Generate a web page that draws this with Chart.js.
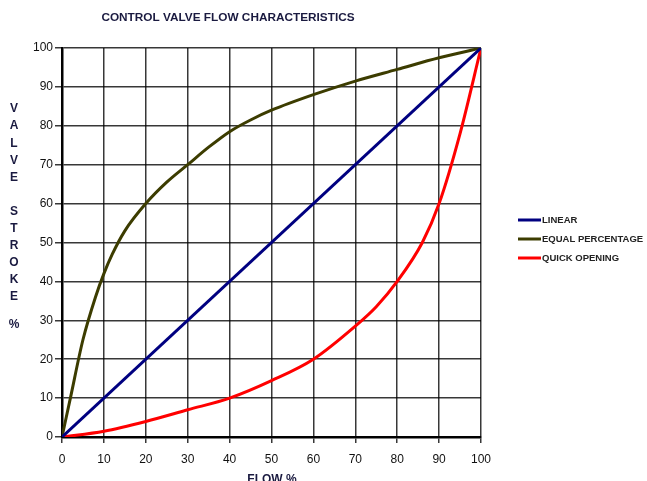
<!DOCTYPE html>
<html>
<head>
<meta charset="utf-8">
<script src="https://cdn.jsdelivr.net/npm/chart.js@4/dist/chart.umd.min.js"></script>
<style>
  html, body { margin: 0; padding: 0; background: #fff; }
  #wrap { width: 647px; height: 481px; }
</style>
</head>
<body>
<div id="wrap"><canvas id="chart"></canvas></div>
<script>
// Data (flow % -> valve stroke %)
const linearFlow   = [0, 100];
const linearStroke = [0, 100];

const equalFlow   = [0, 2, 5, 8, 10, 12, 15, 20, 25, 30, 35, 40, 45, 50, 60, 70, 80, 90, 100];
const equalStroke = [0, 10, 25, 36, 42, 47, 53, 60, 65.5, 70, 74.5, 78.5, 81.5, 84, 88, 91.5, 94.5, 97.5, 100];

const quickFlow   = [0, 10, 20, 30, 40, 50, 60, 70, 75, 80, 86, 90, 95, 100];
const quickStroke = [0, 1.5, 4, 7, 10, 14.5, 20, 28.5, 33.5, 40, 50, 60, 78, 100];

const seriesNames = ["LINEAR", "EQUAL PERCENTAGE", "QUICK OPENING"];
const seriesColors = ["#000080", "#3c3c00", "#ff0000"];

const titleText = "CONTROL VALVE FLOW CHARACTERISTICS";
const xTitle = "FLOW %";
const yTitle = ["V", "A", "L", "V", "E", "", "S", "T", "R", "O", "K", "E", "%"];

function toPoints(xs, ys) {
    return xs.map((x, i) => ({x: x, y: ys[i]}));
}

// Text around the chart: title, axis titles, legend
const decorations = {
    id: "decorations",
    afterDraw(chart) {
        const ctx = chart.ctx;
        ctx.save();
        ctx.fillStyle = "#1a1a40";
        ctx.textBaseline = "middle";

        ctx.font = "bold 11.8px 'Liberation Sans', Arial, sans-serif";
        ctx.textAlign = "center";
        ctx.fillText(titleText, 228, 18);

        ctx.font = "bold 12px 'Liberation Sans', Arial, sans-serif";
        ctx.fillText(xTitle, 272, 480);

        // stacked letters for the y title
        let y = 109;
        yTitle.forEach((ch, i) => {
            if (ch === "%") y += 10;
            if (ch) ctx.fillText(ch, 14, y);
            y += 17.1;
        });

        // legend
        ctx.textAlign = "left";
        ctx.font = "bold 9.5px 'Liberation Sans', Arial, sans-serif";
        chart.data.datasets.forEach((ds, i) => {
            let ly = 220 + i * 19;
            ctx.strokeStyle = ds.borderColor;
            ctx.lineWidth = 3;
            ctx.beginPath();
            ctx.moveTo(518, ly);
            ctx.lineTo(541, ly);
            ctx.stroke();
            ctx.fillStyle = "#222";
            ctx.fillText(ds.label, 542, ly);
        });
        ctx.restore();
    }
};

const gridOpts = {
    color: "rgba(0,0,0,0.78)",
    lineWidth: 1.5,
    drawTicks: true
};

const ctx = document.getElementById("chart").getContext("2d");
const myChart = new Chart(ctx, {
    type: "line",
    data: {
        datasets: [
            {
                label: seriesNames[0],
                data: toPoints(linearFlow, linearStroke),
                borderColor: seriesColors[0],
                backgroundColor: seriesColors[0],
                borderWidth: 3,
                pointRadius: 0,
                tension: 0
            },
            {
                label: seriesNames[1],
                data: toPoints(equalFlow, equalStroke),
                borderColor: seriesColors[1],
                backgroundColor: seriesColors[1],
                borderWidth: 3,
                pointRadius: 0,
                cubicInterpolationMode: "monotone"
            },
            {
                label: seriesNames[2],
                data: toPoints(quickFlow, quickStroke),
                borderColor: seriesColors[2],
                backgroundColor: seriesColors[2],
                borderWidth: 3,
                pointRadius: 0,
                cubicInterpolationMode: "monotone"
            }
        ]
    },
    options: {
        responsive: true,
        maintainAspectRatio: false,
        animation: false,
        layout: {
            padding: {top: 48, right: 166, left: 0, bottom: 0}
        },
        plugins: {
            legend: {display: false},
            title: {display: false},
            tooltip: {enabled: false}
        },
        scales: {
            x: {
                type: "linear",
                min: 0,
                max: 100,
                ticks: {
                    stepSize: 10,
                    color: "#111",
                    padding: 9,
                    maxRotation: 0,
                    font: {family: "'Liberation Sans', Arial, sans-serif", size: 12}
                },
                grid: Object.assign({}, gridOpts, {tickLength: 6}),
                border: {display: true, color: "#000", width: 2.5},
                afterFit: scale => { scale.height = 44; }
            },
            y: {
                min: 0,
                max: 100,
                ticks: {
                    stepSize: 10,
                    color: "#111",
                    padding: 2,
                    font: {family: "'Liberation Sans', Arial, sans-serif", size: 12}
                },
                grid: Object.assign({}, gridOpts, {tickLength: 7}),
                border: {display: true, color: "#000", width: 2.5},
                afterFit: scale => { scale.width = 62; }
            }
        }
    },
    plugins: [decorations]
});
</script>
</body>
</html>
